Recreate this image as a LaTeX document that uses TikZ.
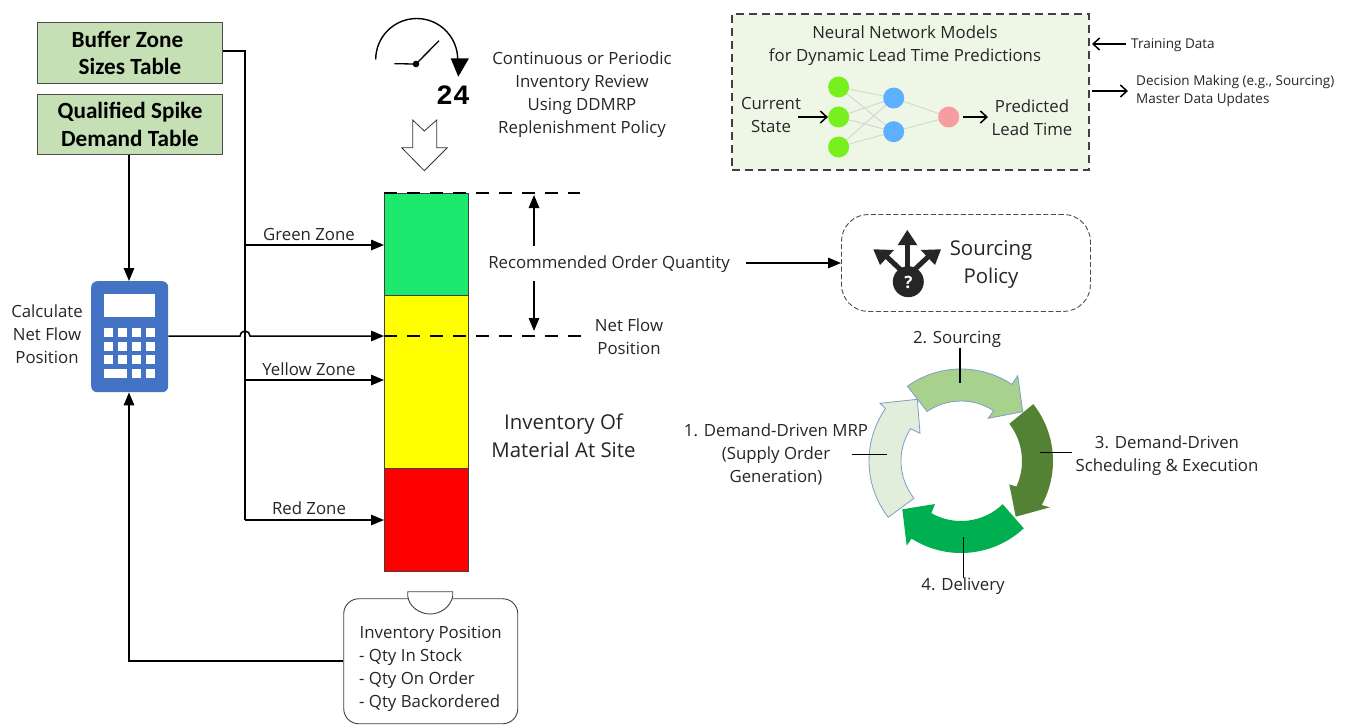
\documentclass[tikz,border=0pt]{standalone}
\usepackage{fontspec}
\setmainfont{Open Sans}
\newfontfamily\calibri{Carlito}
\newfontfamily\lmono{Liberation Mono}
\usetikzlibrary{arrows.meta}
\definecolor{txt}{HTML}{262626}
\definecolor{boxgreen}{HTML}{C5E0B4}
\definecolor{calcblue}{HTML}{4472C4}
\definecolor{nnbg}{HTML}{EEF6E6}
\definecolor{ringedge}{HTML}{7F9CC4}
\definecolor{zonegreen}{RGB}{29,233,110}
\definecolor{zoneyellow}{RGB}{255,255,0}
\definecolor{zonered}{RGB}{255,0,0}
\definecolor{nngreen}{RGB}{120,240,30}
\definecolor{nnblue}{RGB}{92,176,255}
\definecolor{nnpink}{RGB}{247,156,160}
\definecolor{ringa}{RGB}{226,238,220}
\definecolor{ringb}{RGB}{169,209,142}
\definecolor{ringc}{RGB}{84,130,53}
\definecolor{ringd}{RGB}{0,176,80}
\tikzset{
  lbl/.style={inner sep=0pt,align=center,text=txt,font=\fontsize{16.8}{23}\selectfont},
  small/.style={inner sep=0pt,align=left,text=txt,font=\fontsize{13.5}{18}\selectfont},
  big/.style={inner sep=0pt,align=center,text=txt,font=\fontsize{20.4}{27.5}\selectfont},
  conn/.style={line width=1.5pt,black,-{Triangle[length=13pt,width=10.5pt]}},
  plain/.style={line width=1.5pt,black},
  openarr/.style={line width=1.5pt,black,-{Straight Barb[length=6.5pt,width=12pt]}},
  dashln/.style={line width=1.3pt,black,dash pattern=on 13pt off 10pt},
  tablebox/.style={draw=black!70,line width=1pt,fill=boxgreen,inner sep=0pt,align=center,anchor=north west,minimum width=185pt,font=\calibri\bfseries\fontsize{23.2}{27.5}\selectfont},
  zonebox/.style={draw=black!75,line width=.7pt,inner sep=0pt,anchor=north west,minimum width=84pt},
  neuron/.style={circle,minimum size=21pt,inner sep=0pt},
  nnedge/.style={line width=.9pt,black!17},
  ring/.style={line width=.8pt,line join=miter},
  tick/.style={line width=1.5pt,black},
}
\begin{document}
\begin{tikzpicture}[x=1pt,y=-1pt]
\useasboundingbox (0,0) rectangle (1351,724);
\fill[white] (0,0) rectangle (1351,724);

% tables
\node[tablebox,minimum height=61pt] (buffer) at (37,22) {\hspace*{-5pt}Buffer Zone\\Sizes Table};
\node[tablebox,minimum height=60pt] (spike) at (37,94) {Qualified Spike\\Demand Table};

% calculator
\node[fill=calcblue,rounded corners=6pt,minimum width=77pt,minimum height=111pt,inner sep=0pt,anchor=north west] (calc) at (91,281) {};
\fill[white] (104.3,294.3) rectangle (155,317.3);
\foreach \yy in {327.7,341.7,355.3}{
  \foreach \xx in {104.3,118.3,132,145.7}{
    \fill[white] (\xx,\yy) rectangle ++(9,9);
  }
}
\fill[white] (104.3,369.3) rectangle (127.3,378);
\fill[white] (132,369.3) rectangle (141,378);
\fill[white] (145.7,369.3) rectangle (155,378);
\node[lbl] (calctext) at (47,334) {Calculate\\Net Flow\\Position};

% bar
\node[zonebox,fill=zonegreen,minimum height=102pt] (gz) at (384,193) {};
\node[zonebox,fill=zoneyellow,minimum height=173pt] (yz) at (384,295) {};
\node[zonebox,fill=zonered,minimum height=103pt] (rz) at (384,468) {};

% connectors left
\coordinate (trunktop) at (245,51);
\coordinate (ga) at (245,245);
\coordinate (ya) at (245,380);
\coordinate (ra) at (245,520);
\coordinate (nfa) at (384,336);
\coordinate (ja) at (240,336);
\coordinate (qx) at (129,0);
\draw[plain] (buffer.east |- trunktop) -- (trunktop) -- (ra);
\draw[conn] (ga) -- (ga -| gz.west);
\draw[conn] (ya) -- (ya -| yz.west);
\draw[conn] (ra) -- (ra -| rz.west);
\draw[conn] (spike.south -| qx) -- (calc.north -| qx);
\draw[conn] (calc.east |- nfa) -- (ja) arc[start angle=180,end angle=360,radius=5] -- (nfa);
\node[lbl] (gl) at (309,234.5) {Green Zone};
\node[lbl] (yl) at (309,369.5) {Yellow Zone};
\node[lbl] (rl) at (309,508.5) {Red Zone};

% inventory box
\node[draw=black!75,line width=.9pt,rounded corners=15pt,minimum width=174pt,minimum height=125pt,inner sep=0pt,anchor=north west] (inv) at (343.3,598.3) {};
\filldraw[fill=white,draw=black!75,line width=.9pt] (407.7,591.7) -- (452.7,591.7) -- (452.7,596) .. controls (451,607) and (440,614) .. (430.2,614) .. controls (420,614) and (409,607) .. (407.7,596) -- cycle;
\node[lbl,align=left,anchor=west] (invt) at (359,668.5) {\hspace*{0.5pt}Inventory Position\\- Qty In Stock\\- Qty On Order\\- Qty Backordered};
\coordinate (invc) at (129,661);
\draw[conn] (inv.west |- invc) -- (invc) -- (calc.south -| invc);

% clock
\coordinate (cc) at (416,64);
\draw[line width=1.4pt,black] (375.7,59.5) arc[start angle=180,end angle=360,radius=41];
\fill[black] (450.7,58.3) -- (469,58.3) -- (458.3,76.7) -- cycle;
\fill[black] (cc) circle[radius=3.3];
\draw[line width=1.3pt,black] (394.3,63.7) -- (cc) -- (439,40.7);
\node[inner sep=0pt,font=\lmono\bfseries\fontsize{28}{28}\selectfont] (num) at (453,95) {24};
\draw[line width=.8pt,draw=black!80,line join=miter,fill=white] (412.7,120) -- (424.3,131) -- (436.7,120) -- (436.7,147.7) -- (447.3,147.7) -- (424.3,170.7) -- (401.7,147.7) -- (412.7,147.7) -- cycle;
\node[lbl] (review) at (582,95) {Continuous or Periodic\\Inventory Review\\Using DDMRP\\Replenishment Policy};

% quantity markers
\coordinate (d1) at (580,193);
\coordinate (d2) at (585,336);
\coordinate (q1) at (534,246);
\coordinate (q2) at (534,281);
\draw[dashln] (gz.north west) -- (d1);
\draw[dashln] (nfa) -- (d2);
\draw[conn] (q1) -- (534,195);
\draw[conn] (q2) -- (534,331);
\node[lbl] (roq) at (609,264) {Recommended Order Quantity};
\node[lbl] (nf) at (629,336.5) {Net Flow\\Position};
\node[big] (mat) at (563.5,436) {Inventory Of\\Material At Site};

% sourcing
\node[draw=black!70,line width=.9pt,dash pattern=on 5pt off 2.5pt,rounded corners=27pt,minimum width=249pt,minimum height=97pt,inner sep=0pt,anchor=north west] (src) at (841,214) {};
\coordinate (srcin) at (746,263);
\draw[conn] (srcin) -- (srcin -| src.west);
\node[big] (srct) at (991,264.5) {Sourcing\\Policy};
\fill[black!85] (908.3,281.7) circle[radius=15.5];
\draw[line width=5pt,black!85] (907.3,245) -- (907.3,268);
\draw[line width=5pt,black!85] (887,257) -- (903,272);
\draw[line width=5pt,black!85] (928,257) -- (912,272);
\fill[black!85] (897.7,245) -- (907.3,230) -- (917.3,245) -- cycle;
\fill[black!85] (873.3,249.3) -- (894,250) -- (880,265) -- cycle;
\fill[black!85] (941,249.3) -- (920.7,250) -- (935,265) -- cycle;
\node[inner sep=0pt,text=white,font=\bfseries\fontsize{17}{17}\selectfont] (qm) at (908.3,282) {?};

% neural network
\node[draw=black!75,line width=1.5pt,dash pattern=on 8pt off 5pt,fill=nnbg,minimum width=357pt,minimum height=156pt,inner sep=0pt,anchor=north west] (nn) at (731,13) {};
\node[lbl] (nnt) at (905,46) {Neural Network Models\\for Dynamic Lead Time Predictions};
\node[neuron] (i1) at (838.6,87) {};
\node[neuron] (i2) at (838.6,117) {};
\node[neuron] (i3) at (838.6,147) {};
\node[neuron] (h1) at (893.7,98) {};
\node[neuron] (h2) at (893.7,131.7) {};
\node[neuron] (o) at (948.7,117) {};
\foreach \a in {i1,i2,i3}{\foreach \b in {h1,h2}{\draw[nnedge] (\a.center) -- (\b.center);}}
\foreach \b in {h1,h2}{\draw[nnedge] (\b.center) -- (o.center);}
\foreach \a in {i1,i2,i3}{\fill[nngreen] (\a) circle[radius=10.5];}
\foreach \b in {h1,h2}{\fill[nnblue] (\b) circle[radius=10.5];}
\fill[nnpink] (o) circle[radius=10.5];
\node[lbl] (cs) at (771,115) {Current\\State};
\node[lbl] (pl) at (1032,118) {Predicted\\Lead Time};
\coordinate (csa) at (798,117);
\coordinate (pla) at (988,117);
\draw[openarr] (csa) -- (i2.west);
\draw[openarr] (o.east) ++(4,0) -- (pla);
\node[small,anchor=west] (td) at (1131,45) {Training Data};
\node[small,anchor=west] (dm) at (1136,91) {Decision Making (e.g., Sourcing)\\Master Data Updates};
\coordinate (tda) at (1092,44);
\coordinate (tdb) at (1126,44);
\coordinate (dma) at (1092,91);
\coordinate (dmb) at (1128,91);
\draw[openarr] (tdb) -- (tda);
\draw[openarr] (dma) -- (dmb);

% ring
\coordinate (C) at (961,461);
\filldraw[ring,fill=ringa,draw=ringedge]
  ([shift={(142.3:92)}]C) arc[start angle=142.3,end angle=214.8,radius=92]
  -- (880,403.3) -- (917.3,399.3) -- (920,433.3) -- (911.7,429.3)
  -- ([shift={(212.7:60)}]C) arc[start angle=212.7,end angle=141.6,radius=60] -- cycle;
\filldraw[ring,fill=ringb,draw=ringedge]
  ([shift={(234.4:92)}]C) arc[start angle=234.4,end angle=303.6,radius=92]
  -- (1017.7,375.7) -- (1022.7,411.7) -- (988.3,418.3) -- (994,410)
  -- ([shift={(303:60)}]C) arc[start angle=303,end angle=235.6,radius=60] -- cycle;
\fill[ringc]
  ([shift={(-38.2:92)}]C) arc[start angle=-38.2,end angle=28.6,radius=92]
  -- (1050,507.3) -- (1015.7,516.7) -- (1009.3,484.3) -- (1016.7,486.7)
  -- ([shift={(24.8:61)}]C) arc[start angle=24.8,end angle=-37.6,radius=61] -- cycle;
\fill[ringd]
  ([shift={(47:92)}]C) arc[start angle=47,end angle=122.5,radius=92]
  -- (906.7,545.7) -- (902.3,509.3) -- (935,504) -- (931.7,512.3)
  -- ([shift={(119.7:60)}]C) arc[start angle=119.7,end angle=46,radius=60] -- cycle;
\node[lbl] (s2) at (957,339.5) {2. Sourcing};
\node[lbl] (s1) at (776,454.5) {1. Demand-Driven MRP\\(Supply Order\\Generation)};
\node[lbl] (s3) at (1167,456) {3. Demand-Driven\\Scheduling \& Execution};
\node[lbl] (s4) at (963,586.5) {4. Delivery};
\coordinate (e2) at (960,382.7);
\coordinate (e1) at (886.7,454.3);
\coordinate (e3) at (1040,452.3);
\coordinate (e4) at (963.7,536.7);
\coordinate (t1) at (851.7,454.3);
\coordinate (t3) at (1071.7,452.3);
\draw[tick] (s2.south -| e2) -- (e2);
\draw[tick] (t1) -- (e1);
\draw[tick] (t3) -- (e3);
\draw[tick] (s4.north -| e4) -- (e4);
\end{tikzpicture}
\end{document}
